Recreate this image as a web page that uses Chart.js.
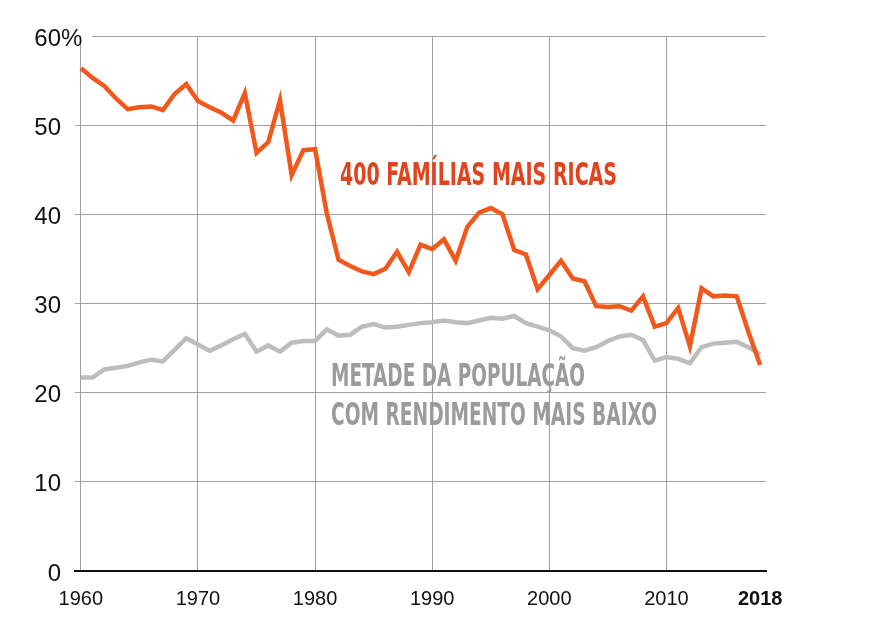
<!DOCTYPE html>
<html>
<head>
<meta charset="utf-8">
<script src="https://cdn.jsdelivr.net/npm/chart.js@4.4.1/dist/chart.umd.min.js"></script>
<style>
  html, body { margin: 0; padding: 0; background: #ffffff; }
  #wrap { width: 891px; height: 622px; }
</style>
</head>
<body>
<div id="wrap"><canvas id="c" width="891" height="622"></canvas></div>
<script>
const years = [];
for (let y = 1960; y <= 2018; y++) years.push(y);

const top400 = [
  56.4, 55.3, 54.4, 53.0, 51.8, 52.0, 52.1, 51.7, 53.5, 54.6,
  52.7, 52.0, 51.4, 50.5, 53.6, 46.9, 48.1, 52.8, 44.4, 47.2,
  47.3, 40.1, 34.9, 34.2, 33.6, 33.3, 33.9, 35.8, 33.5, 36.6,
  36.1, 37.2, 34.8, 38.6, 40.2, 40.7, 40.0, 36.0, 35.5, 31.6,
  33.2, 34.8, 32.8, 32.5, 29.7, 29.6, 29.7, 29.2, 30.8, 27.4,
  27.8, 29.5, 25.2, 31.7, 30.8, 30.9, 30.8, 26.8, 23.1
];

const bottomHalf = [
  21.7, 21.7, 22.6, 22.8, 23.0, 23.4, 23.7, 23.5, 24.8, 26.1,
  25.4, 24.7, 25.3, 26.0, 26.6, 24.6, 25.3, 24.6, 25.6, 25.8,
  25.8, 27.1, 26.4, 26.5, 27.4, 27.7, 27.3, 27.4, 27.6, 27.8,
  27.9, 28.1, 27.9, 27.8, 28.1, 28.4, 28.3, 28.6, 27.8, 27.4,
  27.0, 26.3, 25.0, 24.7, 25.1, 25.8, 26.3, 26.5, 25.9, 23.6,
  24.0, 23.8, 23.3, 25.1, 25.5, 25.6, 25.7, 25.1, 24.3
];

const xTickValues = [1960, 1970, 1980, 1990, 2000, 2010, 2018];
const yTickValues = [0, 10, 20, 30, 40, 50, 60];

const labelTop = "400 FAMÍLIAS MAIS RICAS";
const labelBottom1 = "METADE DA POPULAÇÃO";
const labelBottom2 = "COM RENDIMENTO MAIS BAIXO";

const ORANGE = '#f2581b';
const ORANGE_TEXT = '#e0441f';
const GREY_LINE = '#bdbdbd';
const GREY_TEXT = '#9b9b9b';
const GRID = '#a0a0a0';
const TICK_FONT = 'Liberation Sans, Arial, sans-serif';
const COND_FONT = '"DejaVu Sans Condensed", "DejaVu Sans", sans-serif';

function drawFitted(ctx, text, x, baseline, width, font, color) {
  ctx.save();
  ctx.font = font;
  const w = ctx.measureText(text).width;
  ctx.translate(x, baseline);
  ctx.scale(width / w, 1);
  ctx.fillStyle = color;
  ctx.textAlign = 'left';
  ctx.textBaseline = 'alphabetic';
  ctx.fillText(text, 0, 0);
  ctx.restore();
}

const extras = {
  id: 'extras',
  afterDraw(chart) {
    const ctx = chart.ctx;
    const xs = chart.scales.x, ys = chart.scales.y;
    const y60 = ys.getPixelForValue(60);
    ctx.save();
    ctx.strokeStyle = GRID;
    ctx.lineWidth = 1;
    ctx.beginPath();
    ctx.moveTo(92, Math.round(y60) + 0.5);
    ctx.lineTo(chart.chartArea.right, Math.round(y60) + 0.5);
    ctx.stroke();
    ctx.font = '24px ' + TICK_FONT;
    ctx.fillStyle = '#111';
    ctx.textAlign = 'left';
    ctx.textBaseline = 'middle';
    ctx.fillText('%', 61, y60 + 3);
    ctx.restore();

    drawFitted(ctx, labelTop, xs.getPixelForValue(1982.13), ys.getPixelForValue(43.3), 277,
      'bold 32px ' + COND_FONT, ORANGE_TEXT);
    drawFitted(ctx, labelBottom1, xs.getPixelForValue(1981.36), ys.getPixelForValue(20.7), 254,
      'bold 32px ' + COND_FONT, GREY_TEXT);
    drawFitted(ctx, labelBottom2, xs.getPixelForValue(1981.36), ys.getPixelForValue(16.35), 326,
      'bold 32px ' + COND_FONT, GREY_TEXT);
  }
};

new Chart(document.getElementById('c'), {
  type: 'line',
  data: {
    datasets: [
      {
        label: labelTop,
        data: years.map((y, i) => ({ x: y, y: top400[i] })),
        borderColor: ORANGE,
        borderWidth: 4.5,
        pointRadius: 0,
        tension: 0,
        fill: false,
        borderJoinStyle: 'miter'
      },
      {
        label: labelBottom1 + ' ' + labelBottom2,
        data: years.map((y, i) => ({ x: y, y: bottomHalf[i] })),
        borderColor: GREY_LINE,
        borderWidth: 4.5,
        pointRadius: 0,
        tension: 0,
        fill: false,
        borderJoinStyle: 'miter'
      }
    ]
  },
  options: {
    responsive: false,
    animation: false,
    layout: { padding: { left: 0, top: 36, right: 125, bottom: 0 } },
    plugins: { legend: { display: false }, tooltip: { enabled: false } },
    scales: {
      x: {
        type: 'linear',
        min: 1959.5,
        max: 2018.5,
        afterBuildTicks: s => { s.ticks = xTickValues.map(v => ({ value: v })); },
        afterFit: s => { s.height = 51; },
        grid: {
          color: c => (c.tick && c.tick.value === 2018) ? 'rgba(0,0,0,0)' : GRID,
          lineWidth: 1,
          drawTicks: false
        },
        border: { color: '#111', width: 2 },
        ticks: {
          padding: 16,
          color: '#111',
          autoSkip: false,
          maxRotation: 0,
          font: c => ({ family: TICK_FONT, size: 20, weight: (c.tick && c.tick.value === 2018) ? 'bold' : 'normal' }),
          callback: v => String(v)
        }
      },
      y: {
        min: 0,
        max: 60,
        afterBuildTicks: s => { s.ticks = yTickValues.map(v => ({ value: v })); },
        afterFit: s => { s.width = 75; },
        grid: {
          color: c => (c.tick && (c.tick.value === 60 || c.tick.value === 0)) ? 'rgba(0,0,0,0)' : GRID,
          lineWidth: 1,
          drawTicks: false
        },
        border: { display: false },
        ticks: {
          padding: 14,
          labelOffset: 3,
          color: '#111',
          font: { family: TICK_FONT, size: 24 },
          callback: v => String(v)
        }
      }
    }
  },
  plugins: [extras]
});
</script>
</body>
</html>
